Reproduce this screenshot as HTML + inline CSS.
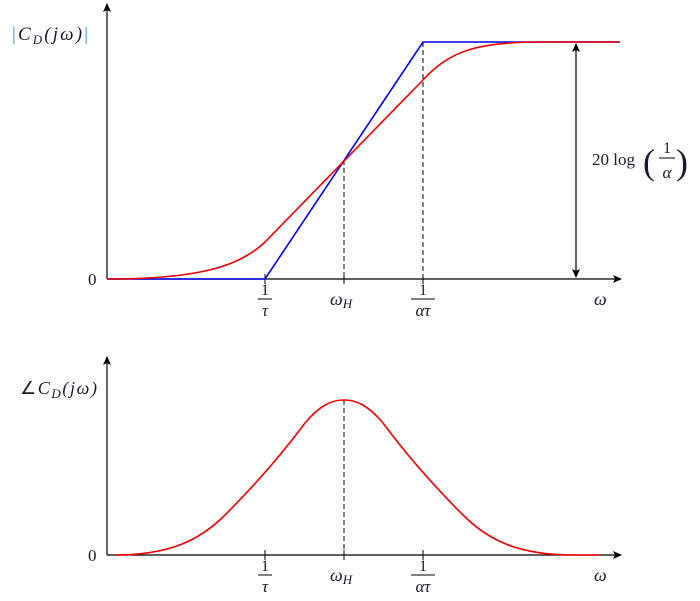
<!DOCTYPE html>
<html><head><style>
html,body{margin:0;padding:0;background:#fff;width:700px;height:601px;overflow:hidden}
svg text{font-family:"Liberation Serif",serif;fill:#1a1a2e}
</style></head><body>
<svg width="700" height="601" viewBox="0 0 700 601" xmlns="http://www.w3.org/2000/svg">
<defs>
<marker id="ar" markerWidth="10" markerHeight="10" refX="8" refY="5" orient="auto" markerUnits="userSpaceOnUse">
<path d="M0,1 L9,5 L0,9 L2,5 Z" fill="#000"/></marker>
<marker id="ars" markerWidth="10" markerHeight="10" refX="1" refY="5" orient="auto" markerUnits="userSpaceOnUse">
<path d="M9,1 L0,5 L9,9 L7,5 Z" fill="#000"/></marker>
</defs>
<line x1="107" y1="279" x2="107" y2="4" stroke="#000" stroke-width="1.2" marker-end="url(#ar)"/>
<line x1="107" y1="279" x2="621" y2="279" stroke="#000" stroke-width="1.2" marker-end="url(#ar)"/>
<g stroke="#000" stroke-width="1"><line x1="265" y1="274" x2="265" y2="284"/><line x1="344" y1="274" x2="344" y2="284"/><line x1="423" y1="274" x2="423" y2="284"/></g>
<line x1="344" y1="160" x2="344" y2="279" stroke="#000" stroke-dasharray="5,3"/>
<line x1="423" y1="42" x2="423" y2="279" stroke="#000" stroke-dasharray="5,3"/>
<line x1="576" y1="44" x2="576" y2="277" stroke="#000" stroke-width="1.2" marker-start="url(#ars)" marker-end="url(#ar)"/>
<path d="M107,279 L265,279 L423,42 L620,42" fill="none" stroke="#0000ee" stroke-width="1.6"/>
<path d="M107,279 C200,279 240,266 265,242 L423,80 C450,50 480,42 540,42 L620,42" fill="none" stroke="#ee0000" stroke-width="1.6"/>
<text x="12" y="40" font-size="19" font-style="italic" textLength="76"><tspan fill="#3a8fd0" font-style="normal">|</tspan>C<tspan font-size="13" dy="4">D</tspan><tspan dy="-4">(jω)</tspan><tspan fill="#3a8fd0" font-style="normal">|</tspan></text>
<text x="88" y="285" font-size="17">0</text>
<text x="265" y="295" font-size="16" text-anchor="middle">1</text>
<line x1="258" y1="299" x2="272" y2="299" stroke="#000"/>
<text x="265" y="316" font-size="17" font-style="italic" text-anchor="middle">τ</text>
<text x="330" y="305" font-size="18" font-style="italic">ω<tspan font-size="13" dy="3">H</tspan></text>
<text x="423" y="295" font-size="16" text-anchor="middle">1</text>
<line x1="411" y1="299" x2="435" y2="299" stroke="#000"/>
<text x="423" y="316" font-size="17" font-style="italic" text-anchor="middle">ατ</text>
<text x="594" y="305" font-size="18" font-style="italic">ω</text>
<text x="592" y="165" font-size="17">20 log</text>
<text x="643" y="174" font-size="36">(</text>
<text x="667" y="153" font-size="16" text-anchor="middle">1</text>
<line x1="659" y1="158" x2="675" y2="158" stroke="#000"/>
<text x="667" y="178" font-size="17" font-style="italic" text-anchor="middle">α</text>
<text x="676" y="174" font-size="36">)</text>
<line x1="107" y1="555" x2="107" y2="357" stroke="#000" stroke-width="1.2" marker-end="url(#ar)"/>
<line x1="107" y1="555" x2="621" y2="555" stroke="#000" stroke-width="1.2" marker-end="url(#ar)"/>
<g stroke="#000" stroke-width="1"><line x1="265" y1="550" x2="265" y2="560"/><line x1="344" y1="550" x2="344" y2="560"/><line x1="423" y1="550" x2="423" y2="560"/></g>
<line x1="344" y1="400" x2="344" y2="555" stroke="#000" stroke-dasharray="5,3"/>
<path d="M115,555 C170,555 200,540 225,515 C260,480 285,450 305,423 C320,405 332,400 344,400 C356,400 368,405 383,423 C403,450 428,480 463,515 C488,540 518,555 573,555 L600,555" fill="none" stroke="#ee0000" stroke-width="1.6"/>
<text x="20" y="394" font-size="18" font-style="italic" textLength="77"><tspan font-style="normal">∠</tspan>C<tspan font-size="13" dy="4">D</tspan><tspan dy="-4">(jω)</tspan></text>
<text x="88" y="561" font-size="17">0</text>
<text x="265" y="571" font-size="16" text-anchor="middle">1</text>
<line x1="258" y1="575" x2="272" y2="575" stroke="#000"/>
<text x="265" y="592" font-size="17" font-style="italic" text-anchor="middle">τ</text>
<text x="330" y="581" font-size="18" font-style="italic">ω<tspan font-size="13" dy="3">H</tspan></text>
<text x="423" y="571" font-size="16" text-anchor="middle">1</text>
<line x1="411" y1="575" x2="435" y2="575" stroke="#000"/>
<text x="423" y="592" font-size="17" font-style="italic" text-anchor="middle">ατ</text>
<text x="594" y="581" font-size="18" font-style="italic">ω</text>
</svg>
</body></html>
